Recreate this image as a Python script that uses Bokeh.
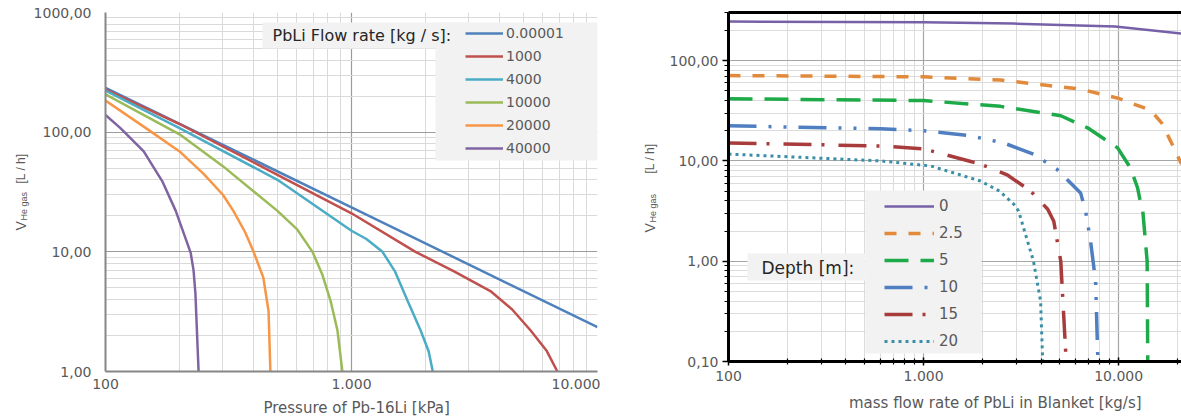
from math import pi
from bokeh.plotting import figure
from bokeh.models import (FixedTicker, Legend, LegendItem, Label, BoxAnnotation,
                          LogAxis, Range1d)
from bokeh.core.properties import value
from bokeh.layouts import row, column
from bokeh.embed import file_html
from bokeh.resources import INLINE

# ---------------- data: left chart (V vs pressure, per PbLi flow rate) ----------------
flow_labels = ["0.00001", "1000", "4000", "10000", "20000", "40000"]
p_f00001 = [100, 1000, 10000]
v_f00001 = [235, 23.5, 2.35]
p_f1000 = [100, 200, 500, 1000, 1820, 2600, 3670, 4500, 5350, 6200, 6870]
v_f1000 = [228, 117, 44, 21, 10, 6.9, 4.7, 3.3, 2.2, 1.5, 1.0]
p_f4000 = [100, 200, 500, 1000, 1150, 1336, 1500, 1690, 1910, 2060, 2140]
v_f4000 = [222, 108, 40, 15, 12.8, 10, 6.9, 3.9, 2.2, 1.47, 1.0]
p_f10000 = [100, 200, 300, 500, 600, 694, 760, 822, 877, 918]
v_f10000 = [207, 96, 52, 22, 15.5, 10, 6.5, 3.9, 2.2, 1.0]
p_f20000 = [100, 150, 200, 250, 300, 331, 370, 400, 438, 460, 468]
v_f20000 = [184, 104, 69, 45, 30, 22, 14.5, 10, 6.1, 3.2, 1.0]
p_f40000 = [100, 115, 143, 170, 193, 222, 228, 232, 239]
v_f40000 = [139, 108, 69, 39, 22, 9.8, 7.0, 4.5, 1.0]

left_x_ticks = [100, 1000, 10000]
left_x_tick_labels = ["100", "1.000", "10.000"]
left_y_ticks = [1, 10, 100, 1000]
left_y_tick_labels = ["1,00", "10,00", "100,00", "1000,00"]

# ---------------- data: right chart (V vs mass flow, per depth) ----------------
depth_labels = ["0", "2.5", "5", "10", "15", "20"]
m_d0 = [100, 1000, 2890, 9600, 21000]
v_d0 = [245, 241, 234, 219, 186]
m_d25 = [100, 1000, 2480, 6380, 10000, 14600, 16600, 18400, 21000]
v_d25 = [71, 69, 64, 52, 42, 32, 24, 16, 9.3]
m_d5 = [100, 1000, 2480, 5050, 6930, 9880, 11500, 12500, 13000, 13300, 14000, 14100]
v_d5 = [41.7, 40, 35, 28.2, 21.4, 13.5, 8.5, 5.4, 3.7, 3.16, 1.0, 0.1]
m_d10 = [100, 603, 1000, 1740, 2600, 3660, 4810, 6380, 6770, 7180, 7620, 7800, 7850]
v_d10 = [22.4, 20.9, 20, 17.8, 15, 11.7, 8.3, 4.8, 3.16, 1.58, 0.63, 0.126, 0.1]
m_d15 = [100, 603, 1000, 1960, 2700, 3540, 4330, 4650, 5050, 5350, 5380]
v_d15 = [15.1, 14.1, 13.2, 9.3, 7.2, 5.0, 3.3, 2.5, 1.0, 0.126, 0.1]
m_d20 = [100, 603, 1090, 1960, 2450, 2900, 3070, 3660, 3980, 4080]
v_d20 = [11.7, 10, 8.9, 6.3, 5.0, 3.7, 3.16, 1.0, 0.4, 0.1]

right_x_ticks = [100, 1000, 10000]
right_x_tick_labels = ["100", "1.000", "10.000"]
right_y_ticks = [0.1, 1, 10, 100]
right_y_tick_labels = ["0,10", "1,00", "10,00", "100,00"]

# ---------------- styles ----------------
FONT = "DejaVu Sans"
YFONT = "Liberation Sans"
TXT = "#595959"
flow_colors = ["#4f81bd", "#c0504d", "#4bacc6", "#9bbb59", "#f79646", "#8064a2"]
depth_colors = ["#7660a8", "#e28a3c", "#1faa4a", "#4f7fc1", "#a83c3c", "#3a8fa6"]
depth_dashes = ["solid", "12 12", "24 12", "28 12 3 12 3 12", "28 10 3 14", "3 4"]
depth_widths = [2.5, 3.5, 3.5, 3.5, 3.5, 3.0]


def minor_for(lo_exp, hi_exp):
    return [m * 10 ** e for e in range(lo_exp, hi_exp) for m in range(2, 10)]


def style_common(p):
    for ax in (p.xaxis[0], p.yaxis[0]):
        ax.major_label_text_font = FONT
        ax.major_label_text_font_size = "14px"
        ax.major_label_text_color = TXT


def blank(w, h):
    f = figure(width=w, height=h, x_range=Range1d(0, w), y_range=Range1d(0, h),
               x_axis_type=None, y_axis_type=None, output_backend="svg",
               toolbar_location=None, min_border=0)
    f.outline_line_color = None
    return f


def ylabel_fig(w, x, y0, small, unit, gap_small, gap_unit):
    f = blank(w, 419)
    f.add_layout(Label(x=x, y=y0, text="V",
                       angle=pi / 2, text_align="left", text_baseline="middle",
                       text_font=YFONT, text_font_size="14px", text_color=TXT))
    f.add_layout(Label(x=x + 3, y=y0 + gap_small, text=small,
                       angle=pi / 2, text_align="left", text_baseline="middle",
                       text_font=YFONT, text_font_size="9px", text_color=TXT))
    f.add_layout(Label(x=x, y=y0 + gap_unit, text=unit,
                       angle=pi / 2, text_align="left", text_baseline="middle",
                       text_font=YFONT, text_font_size="12px", text_color=TXT))
    return f


def xtitle_fig(w, h, x, y, text):
    f = blank(w, h)
    f.add_layout(Label(x=x, y=y, text=text, text_align="left", text_baseline="middle",
                       text_font=FONT, text_font_size="15px", text_color=TXT))
    return f


def screen_box(p, left, right, top, bottom):
    p.add_layout(BoxAnnotation(left=left, right=right, top=top, bottom=bottom,
                               left_units="screen", right_units="screen",
                               top_units="screen", bottom_units="screen",
                               fill_color="#f2f2f2", fill_alpha=1, line_color=None,
                               level="underlay"))


# ================= LEFT FIGURE =================
p1 = figure(width=570, height=398, x_axis_type="log", y_axis_type="log",
            x_range=Range1d(100, 10000), y_range=Range1d(1, 1000),
            output_backend="svg", toolbar_location=None,
            min_border_left=75, min_border_right=3, min_border_top=12, min_border_bottom=27)
p1.outline_line_color = None
p1.xaxis[0].ticker = FixedTicker(ticks=left_x_ticks, minor_ticks=minor_for(2, 5))
p1.yaxis[0].ticker = FixedTicker(ticks=left_y_ticks, minor_ticks=minor_for(0, 3))
p1.xaxis[0].major_label_overrides = dict(zip(left_x_ticks, left_x_tick_labels))
p1.yaxis[0].major_label_overrides = dict(zip(left_y_ticks, left_y_tick_labels))
style_common(p1)
for ax in (p1.xaxis[0], p1.yaxis[0]):
    ax.axis_line_color = "#868686"
    ax.axis_line_width = 2
    ax.major_tick_line_color = None
    ax.minor_tick_line_color = None
    ax.major_tick_out = 0
    ax.minor_tick_out = 0
    ax.major_tick_in = 0
    ax.minor_tick_in = 0
p1.xaxis[0].major_label_standoff = 7
p1.yaxis[0].major_label_standoff = 14
for g in (p1.xgrid[0], p1.ygrid[0]):
    g.grid_line_color = "#9c9c9c"
    g.grid_line_width = 1.2
    g.minor_grid_line_color = "#dadada"
    g.minor_grid_line_width = 1

screen_box(p1, 157, 365, 349, 323)
screen_box(p1, 330, 492, 349, 211)

left_series = [(p_f00001, v_f00001), (p_f1000, v_f1000), (p_f4000, v_f4000),
               (p_f10000, v_f10000), (p_f20000, v_f20000), (p_f40000, v_f40000)]
items1 = []
for (xs, ys), lab, col in zip(left_series, flow_labels, flow_colors):
    r = p1.line(xs, ys, line_color=col, line_width=2.5)
    items1.append(LegendItem(label=value(lab), renderers=[r]))

leg1 = Legend(items=items1, location=(360, 213), orientation="vertical",
              glyph_width=38, glyph_height=20, label_height=20, spacing=3, padding=2,
              label_standoff=3, label_text_font=FONT, label_text_font_size="14px",
              label_text_color=TXT, background_fill_alpha=0, border_line_color=None)
p1.add_layout(leg1)

p1.add_layout(Label(x=167, y=336, x_units="screen", y_units="screen",
                    text="PbLi Flow rate [kg / s]:", text_baseline="middle",
                    text_font=FONT, text_font_size="16px", text_color="#262626"))

lab1 = ylabel_fig(30, 20, 189, "He gas", "[L / h]", 10, 47)
t1 = xtitle_fig(570, 21, 183, 12, "Pressure of Pb-16Li [kPa]")

# ================= RIGHT FIGURE =================
p2 = figure(width=519, height=389, x_axis_type="log", y_axis_type="log",
            x_range=Range1d(100, 21000), y_range=Range1d(0.1, 302),
            output_backend="svg", toolbar_location=None,
            min_border_left=66, min_border_right=0, min_border_top=12, min_border_bottom=28)
p2.outline_line_color = None
p2.xaxis[0].ticker = FixedTicker(ticks=right_x_ticks, minor_ticks=minor_for(2, 5))
p2.yaxis[0].ticker = FixedTicker(ticks=right_y_ticks, minor_ticks=minor_for(-1, 3))
p2.xaxis[0].major_label_overrides = dict(zip(right_x_ticks, right_x_tick_labels))
p2.yaxis[0].major_label_overrides = dict(zip(right_y_ticks, right_y_tick_labels))
style_common(p2)
for ax in (p2.xaxis[0], p2.yaxis[0]):
    ax.axis_line_color = "black"
    ax.axis_line_width = 3
    ax.major_tick_line_color = "black"
    ax.minor_tick_line_color = "black"
    ax.major_tick_line_width = 1.5
    ax.minor_tick_line_width = 1.2
p2.yaxis[0].major_tick_out = 6
p2.yaxis[0].major_tick_in = 0
p2.yaxis[0].minor_tick_out = 4
p2.yaxis[0].minor_tick_in = 0
p2.yaxis[0].major_label_standoff = 4
p2.xaxis[0].major_tick_out = 4
p2.xaxis[0].major_tick_in = 4
p2.xaxis[0].minor_tick_out = 3
p2.xaxis[0].minor_tick_in = 3
p2.xaxis[0].major_label_standoff = 5

top_axis = LogAxis(ticker=FixedTicker(ticks=[], minor_ticks=[]),
                   axis_line_color="black", axis_line_width=3,
                   major_tick_line_color=None, minor_tick_line_color=None,
                   major_label_text_font_size="0px", major_label_standoff=0)
p2.add_layout(top_axis, "above")

for g in (p2.xgrid[0], p2.ygrid[0]):
    g.grid_line_color = "#a6a6a6"
    g.grid_line_width = 1.2
    g.minor_grid_line_color = "#dcdcdc"
    g.minor_grid_line_width = 1

screen_box(p2, 19, 137, 108, 81)
screen_box(p2, 137, 253, 171, 8)

right_series = [(m_d0, v_d0), (m_d25, v_d25), (m_d5, v_d5),
                (m_d10, v_d10), (m_d15, v_d15), (m_d20, v_d20)]
items2 = []
for (xs, ys), lab, col, dash, w in zip(right_series, depth_labels, depth_colors,
                                       depth_dashes, depth_widths):
    r = p2.line(xs, ys, line_color=col, line_width=w, line_dash=dash)
    items2.append(LegendItem(label=value(lab), renderers=[r]))

leg2 = Legend(items=items2, location=(156, 10), orientation="vertical",
              glyph_width=50, glyph_height=20, label_height=20, spacing=7, padding=3,
              label_standoff=5, label_text_font=FONT, label_text_font_size="15px",
              label_text_color=TXT, background_fill_alpha=0, border_line_color=None)
p2.add_layout(leg2)

p2.add_layout(Label(x=33, y=94, x_units="screen", y_units="screen",
                    text="Depth [m]:", text_baseline="middle",
                    text_font=FONT, text_font_size="17px", text_color="#262626"))

lab2 = ylabel_fig(62, 49, 187, "He gas", "[L / h]", 10, 59)
t2 = xtitle_fig(519, 30, 138, 17, "mass flow rate of PbLi in Blanket [kg/s]")

layout = row(lab1, column(p1, t1, spacing=0), lab2, column(p2, t2, spacing=0), spacing=0)
open("out.html", "w").write(file_html(layout, INLINE))
